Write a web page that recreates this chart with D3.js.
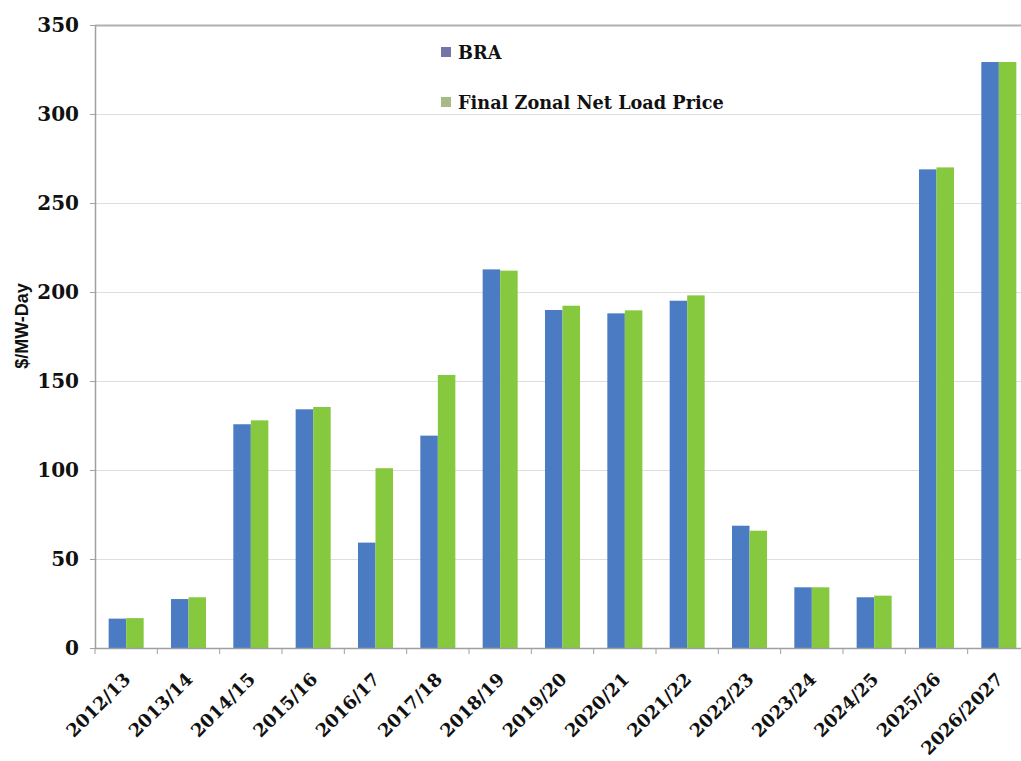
<!DOCTYPE html>
<html><head><meta charset="utf-8">
<script src="https://cdn.jsdelivr.net/npm/d3@7"></script>
<style>body{margin:0;background:#fff}</style>
</head><body>
<svg id="c" width="1021" height="761"></svg>
<script>
const categories = ["2012/13","2013/14","2014/15","2015/16","2016/17","2017/18","2018/19","2019/20","2020/21","2021/22","2022/23","2023/24","2024/25","2025/26","2026/2027"];
const braValues = [16.5,27.5,125.7,134.1,59.2,119.3,212.7,189.9,188.0,195.1,68.7,34.1,28.5,268.9,329.2];
const finalValues = [16.8,28.5,127.9,135.4,101.0,153.4,212.0,192.3,189.7,198.1,65.9,34.1,29.4,270.0,329.2];
const yTicks = [0,50,100,150,200,250,300,350];
const seriesNames = ["BRA","Final Zonal Net Load Price"];

const svg = d3.select("#c");
const m = {left:95, right:1030, top:25, bottom:648};
const x = d3.scaleBand().domain(categories).range([m.left, m.right]).paddingInner(0).paddingOuter(0);
const x1 = d3.scaleBand().domain(seriesNames).range([0, x.bandwidth()]).paddingInner(0).paddingOuter(0.78);
const y = d3.scaleLinear().domain([0,350]).range([m.bottom, m.top]);
const colors = {"BRA":"#4a7bc3","Final Zonal Net Load Price":"#86c93f"};
const legendColors = {"BRA":"#7474a6","Final Zonal Net Load Price":"#a7b985"};

// gridlines
svg.append("g").selectAll("line").data(yTicks.filter(d=>d>0)).join("line")
  .attr("x1", m.left).attr("x2", 1021)
  .attr("y1", d=>y(d)+0.5).attr("y2", d=>y(d)+0.5)
  .attr("stroke", d=> d===350 ? "#b0b0b0" : "#dedede").attr("stroke-width", d=> d===350?2:1);

// bars
const rows = categories.map((c,i)=>({c, vals:[{k:"BRA",v:braValues[i]},{k:"Final Zonal Net Load Price",v:finalValues[i]}]}));
const g = svg.append("g").selectAll("g").data(rows).join("g").attr("transform", d=>`translate(${x(d.c)},0)`);
g.selectAll("rect").data(d=>d.vals).join("rect")
  .attr("x", d=>x1(d.k)).attr("width", x1.bandwidth())
  .attr("y", d=>y(d.v)).attr("height", d=>y(0)-y(d.v))
  .attr("fill", d=>colors[d.k]);

// y axis
const ya = svg.append("g").attr("transform", `translate(${m.left},0)`)
  .call(d3.axisLeft(y).tickValues(yTicks).tickSize(5).tickPadding(11).tickSizeOuter(0));
ya.select(".domain").attr("stroke","#a0a0a0").attr("stroke-width",1.5);
ya.selectAll(".tick line").attr("stroke","#a0a0a0");
ya.selectAll("text").attr("font-family","DejaVu Serif").attr("font-weight","bold").attr("font-size","20px").attr("fill","#111");

// x axis
const xa = svg.append("g").attr("transform", `translate(0,${m.bottom})`);
xa.append("line").attr("x1", m.left).attr("x2", 1021).attr("y1",0.5).attr("y2",0.5).attr("stroke","#a0a0a0").attr("stroke-width",1.5);
const bounds = categories.map(c=>x(c)).concat([m.right]);
xa.selectAll("line.t").data(bounds).join("line").attr("class","t")
  .attr("x1",d=>d).attr("x2",d=>d).attr("y1",0).attr("y2",6).attr("stroke","#a0a0a0");
xa.selectAll("text").data(categories).join("text")
  .attr("transform", d=>`translate(${x(d)+x.bandwidth()/2+1},${28}) rotate(-45)`)
  .attr("text-anchor","end").attr("dy","0.35em")
  .attr("font-family","DejaVu Serif").attr("font-weight","bold").attr("font-size","18px").attr("fill","#111")
  .text(d=>d);

// y title
svg.append("text").attr("transform","translate(28,326) rotate(-90)")
  .attr("text-anchor","middle").attr("font-family","Liberation Sans").attr("font-weight","bold")
  .attr("font-size","18px").attr("fill","#111").text("$/MW-Day");

// legend
const lg = svg.append("g").selectAll("g").data(seriesNames).join("g")
  .attr("transform",(d,i)=>`translate(441,${47+i*50})`);
lg.append("rect").attr("width",10).attr("height",10).attr("fill",d=>legendColors[d]);
lg.append("text").attr("x",17).attr("y",12).attr("font-family","DejaVu Serif").attr("font-weight","bold")
  .attr("font-size","17.7px").attr("fill","#111").text(d=>d);
</script>
</body></html>
